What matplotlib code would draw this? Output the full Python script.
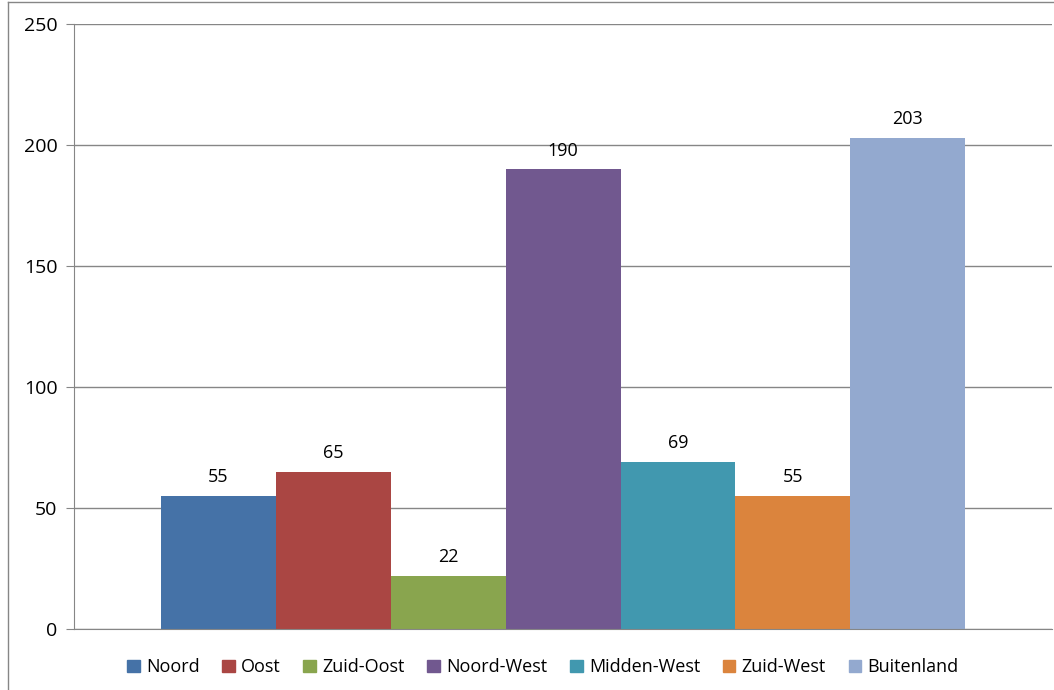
import matplotlib
matplotlib.use('Agg')
import matplotlib.pyplot as plt
from matplotlib.lines import Line2D
from matplotlib.patches import Patch

regions = ['Noord', 'Oost', 'Zuid-Oost', 'Noord-West', 'Midden-West', 'Zuid-West', 'Buitenland']
values = [55, 65, 22, 190, 69, 55, 203]
colors = ['#4572A7', '#AA4643', '#89A54E', '#71588F', '#4198AF', '#DB843D', '#93A9CF']

plt.rcParams['font.family'] = ['Open Sans', 'DejaVu Sans']

fig = plt.figure(figsize=(10.54, 6.9), dpi=100)
ax = fig.add_axes([0.0702, 0.0884, 0.928, 0.8768])

# een categorie met zeven series, gecentreerd
w = 0.1175
start = 0.5 - w * len(values) / 2
for i, (name, v, c) in enumerate(zip(regions, values, colors)):
    x = start + w * (i + 0.5)
    ax.bar(x, v, width=w, color=c, label=name)
    ax.text(x, v + 4, str(v), ha='center', va='bottom', fontsize=13)

ax.set_xlim(0, 1)
ax.set_ylim(0, 250)
ax.set_yticks(range(0, 251, 50))
ax.set_xticks([])
ax.yaxis.grid(True, color='#868686', linewidth=1)
ax.set_axisbelow(True)
for s in ['top', 'right']:
    ax.spines[s].set_visible(False)
for s in ['left', 'bottom']:
    ax.spines[s].set_color('#868686')
ax.tick_params(axis='y', length=6, color='#868686', labelsize=14, pad=6)

handles = [Patch(color=c) for c in colors]
fig.legend(handles, regions, loc='center', bbox_to_anchor=(0.515, 0.033), ncol=7,
           frameon=False, fontsize=13, handlelength=0.7, handleheight=0.7,
           handletextpad=0.35, columnspacing=1.25)

# rand van het grafiekgebied
fig.add_artist(Line2D([0.0076, 0.0076], [0, 0.997], transform=fig.transFigure, color='#868686', linewidth=1))
fig.add_artist(Line2D([0.0076, 1], [0.997, 0.997], transform=fig.transFigure, color='#868686', linewidth=1))

fig.savefig('out.png', dpi=100)
